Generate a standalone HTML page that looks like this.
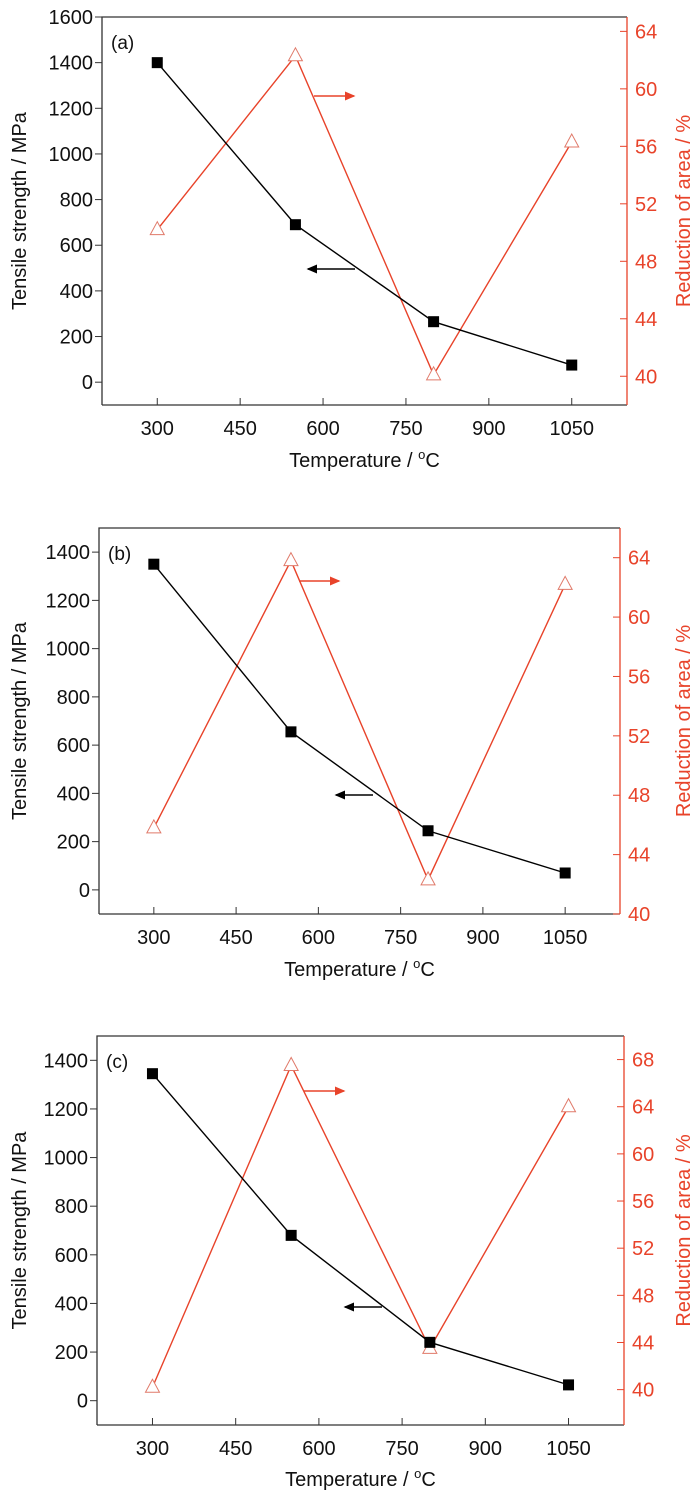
<!DOCTYPE html>
<html><head><meta charset="utf-8"><style>
body{margin:0;background:#fff}
svg{display:block;font-family:"Liberation Sans",sans-serif}
</style></head><body>
<svg id="fig" width="700" height="1498" viewBox="0 0 700 1498" xmlns="http://www.w3.org/2000/svg">
<defs>
<marker id="ar" markerWidth="8" markerHeight="8" refX="6" refY="3" orient="auto"><path d="M0,0 L7,3 L0,6 z" fill="#e8432a"/></marker>
<marker id="ab" markerWidth="8" markerHeight="8" refX="6" refY="3" orient="auto"><path d="M0,0 L7,3 L0,6 z" fill="#000"/></marker>
</defs>
</svg>
<script>
// shared x data
const temps = [300, 550, 800, 1050];
const xTicks = [300, 450, 600, 750, 900, 1050];
// panel a
const strengthA = [1400, 690, 265, 75];
const areaA = [50.2, 62.3, 40.1, 56.3];
const leftTicksA = [0, 200, 400, 600, 800, 1000, 1200, 1400, 1600];
const rightTicksA = [40, 44, 48, 52, 56, 60, 64];
// panel b
const strengthB = [1350, 655, 245, 70];
const areaB = [45.8, 63.8, 42.3, 62.2];
const leftTicksB = [0, 200, 400, 600, 800, 1000, 1200, 1400];
const rightTicksB = [40, 44, 48, 52, 56, 60, 64];
// panel c
const strengthC = [1345, 680, 240, 65];
const areaC = [40.2, 67.5, 43.5, 64.0];
const leftTicksC = [0, 200, 400, 600, 800, 1000, 1200, 1400];
const rightTicksC = [40, 44, 48, 52, 56, 60, 64, 68];

const RED = "#e8432a";
const svg = document.getElementById('fig');
const NS = "http://www.w3.org/2000/svg";
function mk(tag, attrs, parent, txt){
  const e = document.createElementNS(NS, tag);
  for (const k in attrs) e.setAttribute(k, attrs[k]);
  if (txt !== undefined) e.textContent = txt;
  (parent || svg).appendChild(e);
  return e;
}

function panel(id, box, xr, lr, rr, strength, area, lt, rt, label, redArrow, blackArrow, titleY){
  const g = mk('g', {});
  
  
  const X = v => box.l + (v - xr[0]) / (xr[1] - xr[0]) * (box.r - box.l);
  const YL = v => box.b - (v - lr[0]) / (lr[1] - lr[0]) * (box.b - box.t);
  const YR = v => box.b - (v - rr[0]) / (rr[1] - rr[0]) * (box.b - box.t);
  const fr = mk('path', {d:`M${box.l},${box.b} L${box.l},${box.t} L${box.r},${box.t}`, stroke:'#333', 'stroke-width':1.3, fill:'none'}, g);
  
  
  const bx = mk('line', {x1:box.l, y1:box.b, x2:box.r, y2:box.b, stroke:'#333', 'stroke-width':1.3}, g);
  
  
  const ra = mk('line', {x1:box.r, y1:box.t, x2:box.r, y2:box.b, stroke:RED, 'stroke-width':1.3}, g);
  
  
  xTicks.forEach(v => {
    mk('line', {x1:X(v), y1:box.b, x2:X(v), y2:box.b - 7, stroke:'#333', 'stroke-width':1}, g);
    const t = mk('text', {x:X(v), y:box.b + 30, 'text-anchor':'middle', 'font-size':20, fill:'#111'}, g, v);
    
    
  });
  lt.forEach(v => {
    mk('line', {x1:box.l, y1:YL(v), x2:box.l - 7, y2:YL(v), stroke:'#333', 'stroke-width':1}, g);
    const t = mk('text', {x:box.l - 9, y:YL(v) + 7, 'text-anchor':'end', 'font-size':20, fill:'#111'}, g, v);
    
    
  });
  rt.forEach(v => {
    mk('line', {x1:box.r, y1:YR(v), x2:box.r - 7, y2:YR(v), stroke:RED, 'stroke-width':1}, g);
    const t = mk('text', {x:box.r + 8, y:YR(v) + 7, 'text-anchor':'start', 'font-size':20, fill:RED}, g, v);
    
    
  });
  const xt = mk('text', {x:(box.l + box.r) / 2, y:titleY, 'text-anchor':'middle', 'font-size':20, fill:'#111'}, g);
  
  
  xt.innerHTML = 'Temperature / <tspan dy="-8" font-size="13">o</tspan><tspan dy="8">C</tspan>';
  const cy = (box.t + box.b) / 2;
  const yl = mk('text', {x:0, y:0, transform:`translate(26,${cy}) rotate(-90)`, 'text-anchor':'middle', 'font-size':20, fill:'#111'}, g, 'Tensile strength / MPa');
  
  
  const yr = mk('text', {x:0, y:0, transform:`translate(690,${cy}) rotate(-90)`, 'text-anchor':'middle', 'font-size':20, fill:RED}, g, 'Reduction of area / %');
  
  
  const pl = mk('text', {x:box.l + 9, y:box.t + 32, 'font-size':19, fill:'#111'}, g, label);
  
  
  const rl = mk('polyline', {points: temps.map((t,i)=>`${X(t)},${YR(area[i])}`).join(' '), fill:'none', stroke:RED, 'stroke-width':1.4}, g);
  
  
  temps.forEach((t,i) => {
    const x = X(t), y = YR(area[i]);
    const p = mk('polygon', {points:`${x},${y-8} ${x-7},${y+5} ${x+7},${y+5}`, fill:'#fff', stroke:'#e07a6a', 'stroke-width':1}, g);
    
    
  });
  const bl = mk('polyline', {points: temps.map((t,i)=>`${X(t)},${YL(strength[i])}`).join(' '), fill:'none', stroke:'#000', 'stroke-width':1.4}, g);
  
  
  temps.forEach((t,i) => {
    const p = mk('rect', {x:X(t)-5.5, y:YL(strength[i])-5.5, width:11, height:11, fill:'#000'}, g);
    
    
  });
  const a1 = mk('line', {x1:redArrow[0], y1:redArrow[2], x2:redArrow[1], y2:redArrow[2], stroke:RED, 'stroke-width':1.5, 'marker-end':'url(#ar)'}, g);
  
  
  const a2 = mk('line', {x1:blackArrow[0], y1:blackArrow[2], x2:blackArrow[1], y2:blackArrow[2], stroke:'#000', 'stroke-width':1.5, 'marker-end':'url(#ab)'}, g);
  
  
}

panel('a', {l:102, r:627, t:17, b:405}, [200,1150], [-100,1600], [38,65], strengthA, areaA, leftTicksA, rightTicksA, '(a)', [314,354,96], [355,308,269], 467);
panel('b', {l:99, r:620, t:528, b:914}, [200,1150], [-100,1500], [40,66], strengthB, areaB, leftTicksB, rightTicksB, '(b)', [299,339,581], [373,336,795], 976);
panel('c', {l:97, r:624, t:1036, b:1425}, [200,1150], [-100,1500], [37,70], strengthC, areaC, leftTicksC, rightTicksC, '(c)', [304,344,1091], [382,345,1307], 1486);
</script>
</body></html>
